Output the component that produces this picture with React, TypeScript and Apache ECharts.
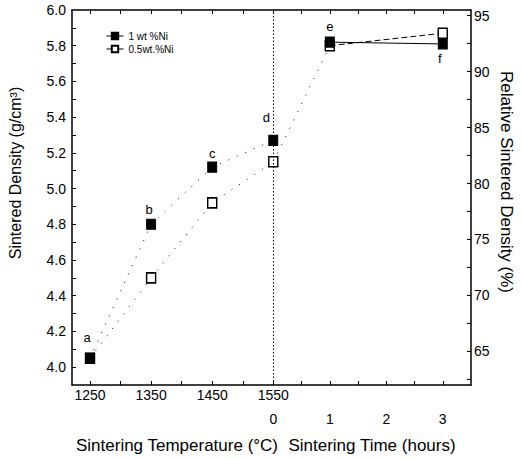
import React, { useEffect, useRef } from 'react';
import * as echarts from 'echarts';

// ---- data ----
const temperatures = [1250, 1350, 1450, 1550];
const times = [1, 3];
const ni1TempDensity = [4.05, 4.8, 5.12, 5.27];
const ni05TempDensity = [4.05, 4.5, 4.92, 5.15];
const ni1TimeDensity = [5.82, 5.81];
const ni05TimeDensity = [5.8, 5.87];
const tempPointNames = ['a', 'b', 'c', 'd'];
const timePointNames = ['e', 'f'];
const seriesNames = ['1 wt %Ni', '0.5wt.%Ni'];

// ---- tick labels ----
const densityTickLabels = [4.0, 4.2, 4.4, 4.6, 4.8, 5.0, 5.2, 5.4, 5.6, 5.8, 6.0];
const relativeTickLabels = [65, 70, 75, 80, 85, 90, 95];
const temperatureTickLabels = [1250, 1350, 1450, 1550];
const timeTickLabels = [0, 1, 2, 3];

// ---- layout constants ----
const FONT = '"Liberation Sans", Arial, sans-serif';
const TEMP_MIN = 1220.5;
const TEMP_MAX = 1873.6;
const TIME_MIN = -3.565;
const TIME_MAX = 3.5;
const DENS_MIN = 3.9;
const DENS_MAX = 6.0;
const REL_MIN = 62;
const REL_MAX = 95.5;
const tempLabelOffsets = [[-3, -4], [-2, 2], [0, 3], [-7, -6]];
const timeLabelOffsets = [[0, 1], [-3, -2]];

const range = (a: number, b: number, s: number) => {
  const out: number[] = [];
  for (let v = a; v <= b + 1e-9; v += s) out.push(Math.round(v * 1000) / 1000);
  return out;
};

const filledItem = { color: '#000', borderColor: '#000', borderWidth: 1 };
const openItem = { color: '#fff', borderColor: '#000', borderWidth: 1.5 };
const dotted = { color: '#333', width: 1, type: [1.2, 8] as number[] };

export default function App() {
  const ref = useRef<HTMLDivElement>(null);
  useEffect(() => {
    if (!ref.current) return;
    const chart = echarts.init(ref.current, undefined, { renderer: 'svg' });
    const tickStyle = { show: true, inside: true, length: 4, lineStyle: { color: '#000', width: 1 } };
    const lineStyle = { show: true, onZero: false, lineStyle: { color: '#000', width: 1.5 } };
    const labelStyle = { fontFamily: FONT, fontSize: 14, color: '#000' };

    const option: any = {
      animation: false,
      backgroundColor: '#fff',
      grid: { left: 72, right: 51, top: 10, bottom: 73 },
      legend: {
        data: seriesNames,
        orient: 'vertical',
        left: 101,
        top: 26,
        itemWidth: 17,
        itemHeight: 8,
        itemGap: 3,
        textStyle: { fontFamily: FONT, fontSize: 10, color: '#000' },
        lineStyle: { type: 'solid', width: 1, color: '#000' },
      },
      xAxis: [
        {
          type: 'value', position: 'bottom', min: TEMP_MIN, max: TEMP_MAX,
          axisLine: lineStyle, splitLine: { show: false },
          axisTick: { ...tickStyle, customValues: range(1250, 1550, 50) },
          axisLabel: { ...labelStyle, margin: 3, customValues: temperatureTickLabels, formatter: (v: number) => String(v) },
        },
        {
          type: 'value', position: 'bottom', min: TIME_MIN, max: TIME_MAX,
          axisLine: { show: false, onZero: false }, splitLine: { show: false },
          axisTick: { ...tickStyle, customValues: range(0.5, 3, 0.5) },
          axisLabel: { ...labelStyle, margin: 27, customValues: timeTickLabels, formatter: (v: number) => String(v) },
        },
        {
          type: 'value', position: 'top', min: TEMP_MIN, max: TEMP_MAX,
          axisLine: lineStyle, splitLine: { show: false },
          axisTick: { ...tickStyle, customValues: range(1250, 1550, 50) },
          axisLabel: { show: false },
        },
        {
          type: 'value', position: 'top', min: TIME_MIN, max: TIME_MAX,
          axisLine: { show: false, onZero: false }, splitLine: { show: false },
          axisTick: { ...tickStyle, customValues: range(0.5, 3, 0.5) },
          axisLabel: { show: false },
        },
      ],
      yAxis: [
        {
          type: 'value', position: 'left', min: DENS_MIN, max: DENS_MAX,
          axisLine: lineStyle, splitLine: { show: false },
          axisTick: { ...tickStyle, customValues: range(4.0, 5.9, 0.1) },
          axisLabel: { ...labelStyle, margin: 6, customValues: densityTickLabels, formatter: (v: number) => v.toFixed(1) },
        },
        {
          type: 'value', position: 'right', min: REL_MIN, max: REL_MAX,
          axisLine: lineStyle, splitLine: { show: false },
          axisTick: { ...tickStyle, customValues: range(62.5, 95, 2.5) },
          axisLabel: { ...labelStyle, margin: 3, customValues: relativeTickLabels, formatter: (v: number) => String(v) },
        },
      ],
      series: [
        {
          name: seriesNames[1], type: 'line', xAxisIndex: 0, yAxisIndex: 0,
          symbol: 'rect', symbolSize: [9, 10], itemStyle: openItem, lineStyle: dotted,
          data: temperatures.map((t, i) => [t, ni05TempDensity[i]]),
          z: 3,
        },
        {
          name: '', type: 'line', xAxisIndex: 1, yAxisIndex: 0,
          showSymbol: false, symbol: 'none', lineStyle: dotted,
          data: [[0, ni05TempDensity[ni05TempDensity.length - 1]], [times[0], ni05TimeDensity[0]]],
          z: 2,
        },
        {
          name: seriesNames[1], type: 'line', xAxisIndex: 1, yAxisIndex: 0,
          symbol: 'rect', symbolSize: [9, 10], itemStyle: openItem,
          lineStyle: { color: '#000', width: 1, type: [6, 3] },
          data: times.map((t, i) => [t, ni05TimeDensity[i]]),
          z: 3,
        },
        {
          name: seriesNames[0], type: 'line', xAxisIndex: 0, yAxisIndex: 0,
          symbol: 'rect', symbolSize: [9, 10], itemStyle: filledItem, lineStyle: dotted,
          data: temperatures.map((t, i) => ({
            value: [t, ni1TempDensity[i]],
            label: { offset: tempLabelOffsets[i] },
          })),
          label: {
            show: true, position: 'top', distance: 5,
            fontFamily: FONT, fontSize: 13, color: '#000',
            formatter: (p: any) => tempPointNames[p.dataIndex],
          },
          markLine: {
            silent: true, symbol: ['none', 'none'], label: { show: false },
            lineStyle: { color: '#000', width: 1, type: [1.5, 2] },
            data: [{ xAxis: temperatures[temperatures.length - 1] }],
          },
          z: 4,
        },
        {
          name: seriesNames[0], type: 'line', xAxisIndex: 1, yAxisIndex: 0,
          symbol: 'rect', symbolSize: [9, 10], itemStyle: filledItem,
          lineStyle: { color: '#000', width: 1, type: 'solid' },
          data: times.map((t, i) => ({
            value: [t, ni1TimeDensity[i]],
            label: { offset: timeLabelOffsets[i], position: i === times.length - 1 ? 'bottom' : 'top' },
          })),
          label: {
            show: true, position: 'top', distance: 5,
            fontFamily: FONT, fontSize: 13, color: '#000',
            formatter: (p: any) => timePointNames[p.dataIndex],
          },
          z: 4,
        },
      ],
      graphic: [
        {
          type: 'text', x: 15, y: 173, rotation: Math.PI / 2,
          style: {
            text: 'Sintered Density (g/cm³)', font: `16px ${FONT}`, fill: '#000',
            align: 'center', verticalAlign: 'middle', textAlign: 'center', textVerticalAlign: 'middle',
          },
        },
        {
          type: 'text', x: 506, y: 182, rotation: -Math.PI / 2,
          style: {
            text: 'Relative Sintered Density (%)', font: `17px ${FONT}`, fill: '#000',
            align: 'center', verticalAlign: 'middle', textAlign: 'center', textVerticalAlign: 'middle',
          },
        },
        {
          type: 'text', x: 177, y: 445,
          style: {
            text: 'Sintering Temperature (°C)', font: `17px ${FONT}`, fill: '#000',
            align: 'center', verticalAlign: 'middle', textAlign: 'center', textVerticalAlign: 'middle',
          },
        },
        {
          type: 'text', x: 372, y: 445,
          style: {
            text: 'Sintering Time (hours)', font: `17px ${FONT}`, fill: '#000',
            align: 'center', verticalAlign: 'middle', textAlign: 'center', textVerticalAlign: 'middle',
          },
        },
      ],
    };
    chart.setOption(option);
    return () => chart.dispose();
  }, []);
  return (
    <div
      ref={ref}
      style={{ position: 'fixed', left: 0, top: 0, width: 522, height: 458, background: '#fff' }}
    />
  );
}
